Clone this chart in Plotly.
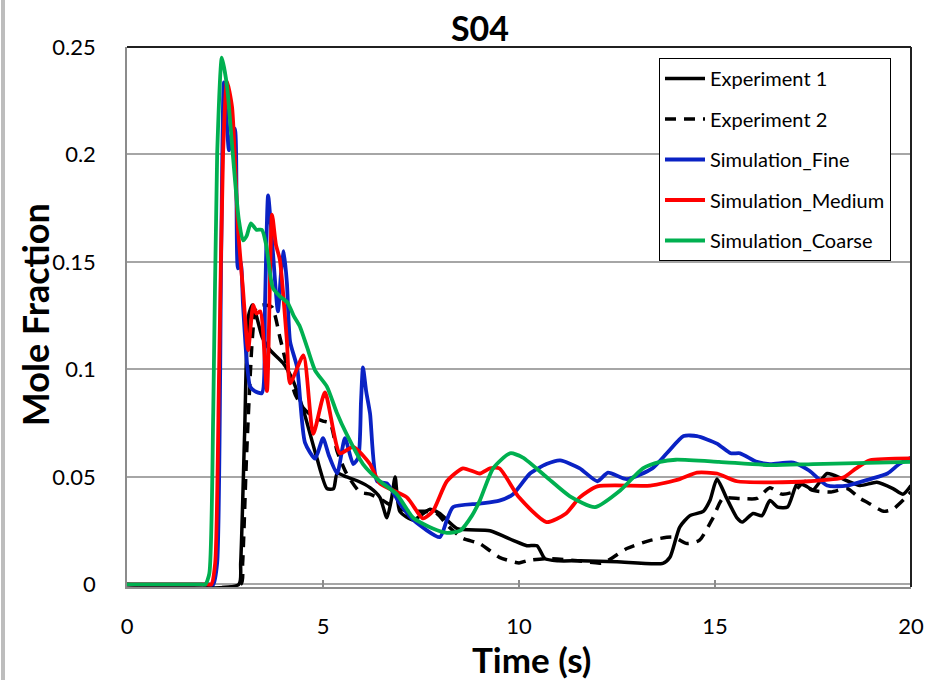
import plotly.graph_objects as go

# ---------------- data ----------------
exp1_t = [0, 2.85, 2.9, 3.0, 3.1, 3.2, 3.3, 3.45, 3.65, 3.98, 4.23, 4.5, 4.84, 5.1, 5.27, 5.36, 5.6, 5.9,
          6.2, 6.45, 6.63, 6.75, 6.84, 6.96, 7.3, 7.73, 7.98, 8.42, 9.26, 9.85, 10.2, 10.46, 10.66, 11.0,
          11.55, 12.5, 13.67, 13.85, 14.1, 14.36, 14.7, 14.87, 15.05, 15.3, 15.56, 15.7, 15.97, 16.2, 16.4,
          16.6, 16.85, 17.1, 17.3, 17.5, 17.86, 18.27, 18.7, 19.13, 19.54, 19.8, 20]
exp1_v = [0, 0, 0.01, 0.07, 0.125, 0.13, 0.125, 0.115, 0.109, 0.103, 0.095, 0.081, 0.059, 0.0446, 0.0446,
          0.0516, 0.05, 0.048, 0.045, 0.0405, 0.031, 0.04, 0.05, 0.034, 0.03, 0.035, 0.033, 0.026, 0.025,
          0.0205, 0.018, 0.018, 0.012, 0.011, 0.011, 0.0105, 0.0098, 0.0126, 0.0267, 0.032, 0.034, 0.039,
          0.049, 0.04, 0.031, 0.029, 0.033, 0.032, 0.039, 0.036, 0.036, 0.047, 0.046, 0.044, 0.0516, 0.049,
          0.046, 0.0475, 0.0446, 0.042, 0.046]

exp2_t = [0, 2.9, 2.95, 3.05, 3.2, 3.3, 3.5, 3.7, 3.9, 4.1, 4.3, 4.5, 4.75, 5.0, 5.18, 5.36, 5.6, 5.94,
          6.2, 6.53, 6.8, 7.2, 7.6, 7.9, 8.2, 8.57, 9.0, 9.5, 10.0, 10.2, 10.7, 11.5, 12.14, 12.75, 13.35,
          13.93, 14.29, 14.6, 14.95, 15.2, 15.64, 16.07, 16.4, 16.7, 17.0, 17.3, 17.45, 17.96, 18.37, 18.7,
          18.9, 19.3, 19.54, 19.9, 20]
exp2_v = [0, 0, 0.01, 0.06, 0.115, 0.129, 0.13, 0.129, 0.115, 0.1, 0.088, 0.082, 0.078, 0.076, 0.075,
          0.062, 0.0516, 0.043, 0.042, 0.039, 0.036, 0.034, 0.034, 0.033, 0.027, 0.0214, 0.019, 0.0126,
          0.01, 0.011, 0.012, 0.011, 0.01, 0.0167, 0.0205, 0.022, 0.019, 0.0205, 0.031, 0.04, 0.04, 0.04,
          0.045, 0.042, 0.043, 0.048, 0.044, 0.043, 0.0446, 0.04, 0.038, 0.034, 0.035, 0.041, 0.043]

fine_t = [0, 2.1, 2.2, 2.3, 2.4, 2.47, 2.53, 2.6, 2.68, 2.75, 2.83, 2.9, 2.96, 3.05, 3.14, 3.25, 3.44, 3.52,
          3.6, 3.7, 3.85, 3.93, 4.0, 4.08, 4.16, 4.34, 4.54, 4.8, 5.0, 5.15, 5.36, 5.56, 5.77, 5.9, 5.97,
          6.02, 6.1, 6.2, 6.38, 6.63, 6.96, 7.3, 7.98, 8.16, 8.32, 9.0, 9.5, 9.85, 10.28, 10.7, 11.05,
          11.55, 12.0, 12.27, 12.75, 13.4, 13.77, 14.2, 14.54, 15.05, 15.4, 15.64, 16.07, 16.4, 17.0,
          17.4, 17.86, 18.37, 18.95, 19.4, 19.7, 20]
fine_v = [0, 0, 0, 0.01, 0.15, 0.2335, 0.22, 0.202, 0.21, 0.212, 0.147, 0.15, 0.13, 0.105, 0.092, 0.09,
          0.089, 0.13, 0.181, 0.16, 0.127, 0.145, 0.155, 0.14, 0.113, 0.101, 0.066, 0.0585, 0.068, 0.06,
          0.0516, 0.068, 0.056, 0.059, 0.085, 0.101, 0.09, 0.0795, 0.048, 0.047, 0.0376, 0.03, 0.022,
          0.03, 0.036, 0.0376, 0.039, 0.042, 0.0516, 0.056, 0.0577, 0.054, 0.048, 0.052, 0.049, 0.054,
          0.061, 0.069, 0.069, 0.0655, 0.061, 0.061, 0.057, 0.056, 0.0567, 0.053, 0.046, 0.046, 0.049,
          0.0516, 0.056, 0.059]

medium_t = [0, 2.05, 2.15, 2.25, 2.35, 2.45, 2.55, 2.68, 2.83, 2.96, 3.09, 3.22, 3.3, 3.4, 3.57, 3.7, 3.8,
            3.9, 4.08, 4.16, 4.5, 4.75, 5.05, 5.43, 5.77, 6.2, 6.45, 7.14, 7.55, 7.8, 8.16, 8.57, 9.0,
            9.26, 9.5, 10.0, 10.7, 11.2, 11.55, 12.0, 13.35, 14.1, 14.54, 15.05, 15.56, 16.4, 17.4,
            18.27, 18.6, 18.95, 20]
medium_v = [0, 0, 0, 0.01, 0.1, 0.2, 0.234, 0.222, 0.166, 0.137, 0.109, 0.13, 0.126, 0.127, 0.09, 0.172,
            0.158, 0.151, 0.113, 0.0935, 0.1065, 0.07, 0.0893, 0.061, 0.064, 0.056, 0.047, 0.0405,
            0.0307, 0.034, 0.048, 0.054, 0.0516, 0.054, 0.054, 0.0405, 0.029, 0.033, 0.0405, 0.0456,
            0.046, 0.049, 0.052, 0.0516, 0.048, 0.0475, 0.048, 0.0497, 0.054, 0.0577, 0.0586]

coarse_t = [0, 1.9, 2.0, 2.1, 2.2, 2.3, 2.42, 2.55, 2.7, 2.85, 2.96, 3.05, 3.16, 3.3, 3.44, 3.55, 3.72, 3.9,
            4.1, 4.25, 4.41, 4.6, 4.8, 5.1, 5.35, 5.6, 6.02, 6.45, 6.88, 7.3, 7.8, 8.16, 8.5, 8.8, 9.0,
            9.34, 9.77, 10.1, 10.7, 11.3, 11.94, 12.6, 13.16, 13.6, 14.0, 15.1, 16.4, 17.5, 20]
coarse_v = [0, 0, 0, 0.005, 0.08, 0.2, 0.245, 0.232, 0.2, 0.17, 0.16, 0.162, 0.168, 0.165, 0.165, 0.158,
            0.138, 0.134, 0.131, 0.125, 0.12, 0.11, 0.0995, 0.092, 0.08, 0.07, 0.056, 0.048, 0.042,
            0.031, 0.026, 0.024, 0.025, 0.032, 0.039, 0.054, 0.061, 0.059, 0.05, 0.041, 0.036, 0.044,
            0.054, 0.057, 0.058, 0.057, 0.0555, 0.056, 0.057]

series_names = ["Experiment 1", "Experiment 2", "Simulation_Fine", "Simulation_Medium", "Simulation_Coarse"]
x_ticks = [0, 5, 10, 15, 20]
y_ticks = [0, 0.05, 0.1, 0.15, 0.2, 0.25]
y_tick_text = ["0", "0.05", "0.1", "0.15", "0.2", "0.25"]

# ---------------- figure ----------------
FONT = "Lato"
series = [
    (exp1_t, exp1_v, "#000000", "solid", 3.5),
    (exp2_t, exp2_v, "#000000", "11px,8px", 3.5),
    (fine_t, fine_v, "#0a22c4", "solid", 3.8),
    (medium_t, medium_v, "#ff0000", "solid", 3.8),
    (coarse_t, coarse_v, "#00b050", "solid", 3.8),
]

Y_LO = -0.0012  # a little room below 0 so lines lying on 0 are not clipped
PX_PER_UNIT = 538 / 0.25
B_MARGIN = 96 - (-Y_LO) * PX_PER_UNIT

fig = go.Figure()
for i, ((t, v, col, dash, w), name) in enumerate(zip(series, series_names)):
    fig.add_trace(go.Scatter(
        x=t, y=v, name=name, mode="lines", legendgroup=f"g{i}",
        line=dict(color=col, width=w, dash=dash, shape="spline", smoothing=0.6),
    ))

plot_h = 680 - 47 - B_MARGIN


def py(pixel_y):
    """paper y coordinate for a pixel row"""
    return (680 - B_MARGIN - pixel_y) / plot_h


fig.update_layout(
    width=941, height=680,
    margin=dict(l=127, r=30, t=47, b=B_MARGIN),
    paper_bgcolor="white", plot_bgcolor="white",
    font=dict(family=FONT, color="black"),
    title=dict(text="<b>S04</b>", font=dict(size=34, family=FONT, color="black"),
               x=480 / 941, xref="container", xanchor="center",
               y=1 - 29 / 680, yref="container", yanchor="middle"),
    showlegend=True,
    legend=dict(
        x=(659 - 127) / 784, y=py(58), xanchor="left", yanchor="top",
        bgcolor="white", bordercolor="black", borderwidth=1,
        font=dict(size=20, family=FONT, color="black"),
        traceorder="grouped", tracegroupgap=11.5, itemwidth=40,
    ),
)

fig.update_xaxes(
    range=[0, 20], tickvals=x_ticks, ticks="inside", ticklen=7, tickwidth=1.5,
    tickcolor="#8c8c8c", showline=True, linecolor="#8c8c8c", linewidth=1.5,
    showgrid=False, zeroline=False, tickfont=dict(size=22, family=FONT),
    ticklabelstandoff=19,
)
fig.update_yaxes(
    range=[Y_LO, 0.25], tickvals=y_ticks, ticktext=y_tick_text, ticks="",
    showline=True, linecolor="#8c8c8c", linewidth=1.5,
    showgrid=True, gridcolor="#a6a6a6", gridwidth=1.5, zeroline=False,
    tickfont=dict(size=22, family=FONT), ticklabelstandoff=25,
)

# axis titles
fig.add_annotation(text="<b>Mole Fraction</b>", xref="paper", yref="paper",
                   x=(35 - 127) / 784, y=py(315), textangle=-90, showarrow=False,
                   font=dict(size=36, family=FONT, color="black"),
                   xanchor="center", yanchor="middle")
fig.add_annotation(text="<b>Time (s)</b>", xref="paper", yref="paper",
                   x=(531 - 127) / 784, y=py(659), showarrow=False,
                   font=dict(size=35, family=FONT, color="black"),
                   xanchor="center", yanchor="middle")

# plot area frame (top/right dark) and chart-area left edge
fig.add_shape(type="line", xref="paper", yref="paper", x0=0, x1=1, y0=1, y1=1,
              line=dict(color="#202020", width=2))
fig.add_shape(type="line", xref="paper", yref="paper", x0=1, x1=1, y0=0, y1=1,
              line=dict(color="#202020", width=2))
fig.add_shape(type="line", xref="paper", yref="paper",
              x0=(3 - 127) / 784, x1=(3 - 127) / 784, y0=py(690), y1=py(-10),
              line=dict(color="#bdbdbd", width=4))

fig.write_html("out.html")
